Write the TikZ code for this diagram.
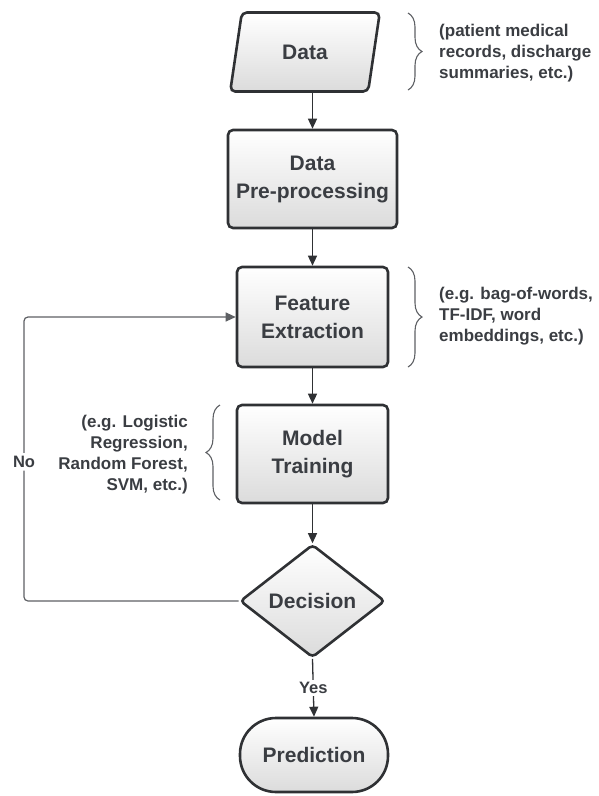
\documentclass[tikz,border=0pt]{standalone}
\usepackage{fontspec}
\setmainfont{Liberation Sans}
\usetikzlibrary{positioning, arrows.meta, shapes.geometric, decorations.pathreplacing}
\definecolor{inkgray}{HTML}{3A3D42}
\definecolor{edgegray}{HTML}{2F3134}
\definecolor{wiregray}{HTML}{5E6064}

\tikzset{
  stage/.style={draw=edgegray, line width=2.6pt, rounded corners=5pt, top color=white,
    bottom color=black!14, text=inkgray, font=\fontsize{21}{28}\selectfont\bfseries,
    align=center, inner sep=0pt},
  flow/.style={-{Triangle[length=10pt,width=9pt]}, line width=1.3pt, draw=edgegray},
  backflow/.style={-{Triangle[length=10pt,width=9pt]}, line width=1.2pt, draw=wiregray,
    rounded corners=4pt},
  note/.style={text=inkgray, font=\fontsize{17}{21}\selectfont\bfseries, inner sep=0pt},
  tag/.style={text=inkgray, font=\fontsize{16.5}{18}\selectfont\bfseries, fill=white, inner sep=2pt},
  curly/.style={decorate, decoration={brace, amplitude=14pt}, draw=wiregray, line width=1.1pt},
}

\begin{document}
\begin{tikzpicture}[x=1pt, y=-1pt]
\useasboundingbox (0,0) rectangle (598,796);

% flow steps
\node[stage, trapezium, trapezium left angle=74, trapezium right angle=106,
  trapezium stretches=true, minimum width=150pt, minimum height=79pt] (data) at (305,52) {Data};
\node[stage, minimum width=169pt, minimum height=98pt] (prep) at (312.5,179) {Data\\Pre-processing};
\node[stage, minimum width=151pt, minimum height=100pt] (feat) at (312.5,317) {Feature\\Extraction};
\node[stage, minimum width=151pt, minimum height=98pt] (model) at (312.5,454) {Model\\Training};
\node[stage, diamond, aspect=1.3, rounded corners=4pt, minimum width=145pt, minimum height=113pt] (dec) at (312.5,601) {Decision};
\node[stage, rounded corners=36pt, minimum width=148pt, minimum height=74pt] (pred) at (314,755) {Prediction};

% arrows
\draw[flow] (prep.north |- data.south) -- (prep.north);
\draw[flow] (prep.south -| feat.north) -- (feat.north);
\draw[flow] (feat.south) -- (feat.south |- model.north);
\draw[flow] (model.south -| dec.north) -- (dec.north);
\draw[flow] (dec.south) -- node[tag] (yes) {Yes} (pred.north);

% loop back
\coordinate (bend) at (24,601);
\draw[backflow] (dec.west) -- (bend) |- node[pos=0.245, tag, inner sep=3pt] (no) {No} (feat.west);

% side notes
\draw[curly] (408,13) -- (408,90);
\node[note, anchor=west, align=left] (datanote) at (439,53) {(patient medical\\records, discharge\\summaries, etc.)};
\draw[curly] (408,267) -- (408,367);
\node[note, anchor=west, align=left] (featnote) at (439,316) {(e.g. bag-of-words,\\TF-IDF, word\\embeddings, etc.)};
\draw[curly] (220,500) -- (220,405);
\node[note, anchor=east, align=right] (modelnote) at (188,455) {(e.g. Logistic\\Regression,\\Random Forest,\\SVM, etc.)};
\end{tikzpicture}
\end{document}
